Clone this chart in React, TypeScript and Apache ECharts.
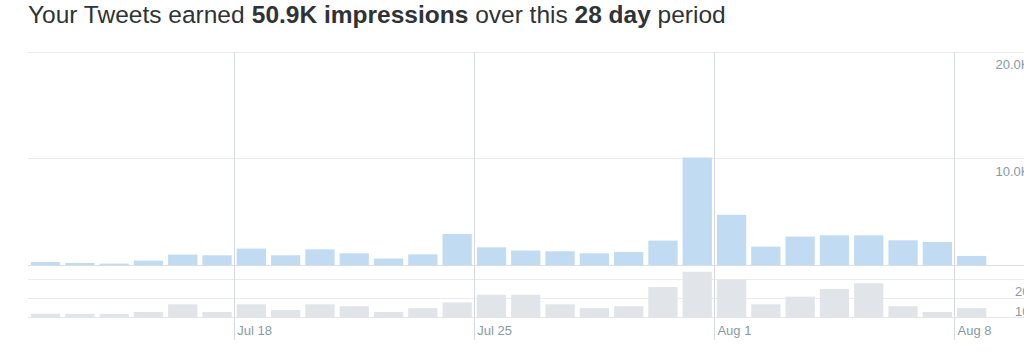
import React, { useEffect, useRef } from "react";
import * as echarts from "echarts";

// ---- data ----
const dates = [
  "Jul 12", "Jul 13", "Jul 14", "Jul 15", "Jul 16", "Jul 17", "Jul 18",
  "Jul 19", "Jul 20", "Jul 21", "Jul 22", "Jul 23", "Jul 24", "Jul 25",
  "Jul 26", "Jul 27", "Jul 28", "Jul 29", "Jul 30", "Jul 31", "Aug 1",
  "Aug 2", "Aug 3", "Aug 4", "Aug 5", "Aug 6", "Aug 7", "Aug 8",
];
const padDates = ["Aug 9", "Aug 10", "Aug 11"];
const impressions = [
  280, 190, 130, 410, 980, 910, 1540,
  910, 1470, 1100, 600, 1000, 2910, 1660,
  1350, 1290, 1100, 1220, 2290, 10100, 4730,
  1730, 2670, 2790, 2790, 2320, 2160, 850,
];
const engagements = [
  2, 2, 2, 3, 7, 3, 7,
  4, 7, 6, 3, 5, 8, 12,
  12, 7, 5, 6, 16, 24, 20,
  7, 11, 15, 18, 6, 3, 5,
];
const topTickLabels: Record<number, string> = { 10000: "10.0K", 20000: "20.0K" };
const bottomTickLabels: Record<number, string> = { 10: "10", 20: "20" };
const totalLabel = "50.9K";
const periodDays = 28;

const FONT = "'Liberation Sans', Arial, Helvetica, sans-serif";
const CHART_W = 1100;

export default function App() {
  const ref = useRef<HTMLDivElement>(null);

  useEffect(() => {
    if (!ref.current) return;
    const chart = echarts.init(ref.current, null, { renderer: "svg" });

    const left = 28.4;
    const pitch = 34.3;
    const slots = dates.length + 2;
    const width = slots * pitch;
    const barCats = dates.concat(padDates.slice(0, 2));
    const boundaryCats = dates.concat(padDates);
    const isWeekTick = (i: number) => i % 7 === 6;

    const option: any = {
      animation: false,
      title: {
        left: 28,
        top: 0,
        padding: 0,
        text: `{n|Your Tweets earned }{b|${totalLabel} impressions}{n| over this }{b|${periodDays} day}{n| period}`,
        textStyle: {
          rich: {
            n: { fontSize: 24.5, fontFamily: FONT, color: "#2f3336", fontWeight: "normal", lineHeight: 28 },
            b: { fontSize: 24.5, fontFamily: FONT, color: "#2f3336", fontWeight: "bold", lineHeight: 28 },
          },
        },
      },
      grid: [
        { left, top: 52, width, height: 213 },
        { left, top: 279.4, width, height: 38.3 },
        { left, top: 52, width, height: 288 },
      ],
      xAxis: [
        {
          type: "category", gridIndex: 0, data: barCats, boundaryGap: true,
          axisLine: { show: true, lineStyle: { color: "#d9dfe4", width: 1 } },
          axisTick: { show: false }, axisLabel: { show: false }, splitLine: { show: false },
        },
        {
          type: "category", gridIndex: 1, data: barCats, boundaryGap: true,
          axisLine: { show: true, lineStyle: { color: "#e3e7ea", width: 1 } },
          axisTick: { show: false }, axisLabel: { show: false }, splitLine: { show: false },
        },
        {
          type: "category", gridIndex: 2, data: boundaryCats, boundaryGap: false,
          axisLine: { show: false }, axisTick: { show: false },
          axisLabel: {
            show: true, inside: true, margin: 3, align: "left", verticalAlign: "bottom",
            padding: [0, 0, 0, 3],
            interval: (i: number) => isWeekTick(i),
            color: "#8899a6", fontSize: 13, fontFamily: FONT,
          },
          splitLine: {
            show: true,
            interval: (i: number) => isWeekTick(i),
            lineStyle: { color: "#d3d9de", width: 1 },
          },
        },
      ],
      yAxis: [
        {
          type: "value", gridIndex: 0, position: "right", min: 0, max: 20000, interval: 10000,
          axisLine: { show: false }, axisTick: { show: false },
          axisLabel: {
            inside: true, margin: 28, verticalAlign: "top", padding: [6, 0, 0, 0],
            formatter: (v: number) => topTickLabels[v] || "",
            color: "#8899a6", fontSize: 13, fontFamily: FONT,
          },
          splitLine: { show: true, lineStyle: { color: "#d6d6d6", type: "dotted", width: 1 } },
        },
        {
          type: "value", gridIndex: 1, position: "right", min: 0, max: 20, interval: 10,
          axisLine: { show: false }, axisTick: { show: false },
          axisLabel: {
            inside: true, margin: 28, verticalAlign: "top", padding: [6, 0, 0, 0],
            formatter: (v: number) => bottomTickLabels[v] || "",
            color: "#8899a6", fontSize: 13, fontFamily: FONT,
          },
          splitLine: { show: true, lineStyle: { color: "#d6d6d6", type: "dotted", width: 1 } },
        },
        { type: "value", gridIndex: 2, show: false, min: 0, max: 1 },
      ],
      series: [
        {
          name: "Impressions", type: "bar", xAxisIndex: 0, yAxisIndex: 0,
          data: impressions, barWidth: 29.3, itemStyle: { color: "#c1dbf2" },
        },
        {
          name: "Engagements", type: "bar", xAxisIndex: 1, yAxisIndex: 1,
          data: engagements, barWidth: 29.3, clip: false, itemStyle: { color: "#e1e5e9" },
        },
      ],
    };

    chart.setOption(option);
    return () => chart.dispose();
  }, []);

  return (
    <div
      style={{ position: "fixed", left: 0, top: 0, width: 1024, height: 352, overflow: "hidden", background: "#fff" }}
    >
      <div ref={ref} style={{ width: CHART_W, height: 352 }} />
    </div>
  );
}
